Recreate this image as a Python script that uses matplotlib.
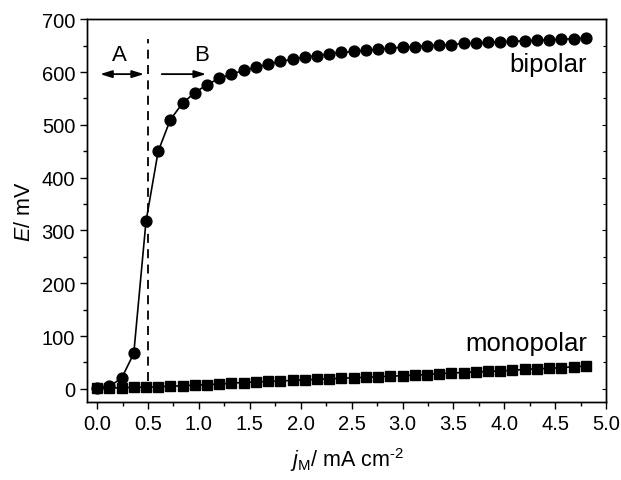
import matplotlib
matplotlib.use('Agg')
import matplotlib.pyplot as plt
import numpy as np

plt.rcParams['font.family'] = ['Liberation Sans', 'DejaVu Sans']
plt.rcParams['mathtext.fontset'] = 'custom'
plt.rcParams['mathtext.rm'] = 'Liberation Sans'
plt.rcParams['mathtext.it'] = 'Liberation Sans:italic'

# current density (mA cm-2), same for both series
j = np.round(np.arange(41) * 0.12, 2)

bipolar = [2, 5, 20, 67, 317, 450, 510, 541, 561, 576,
           588, 596, 603, 609, 615, 620, 624, 628, 631, 634,
           637, 639, 641, 643, 645, 647, 648, 650, 651, 652,
           654, 655, 656, 657, 658, 659, 660, 661, 662, 663, 664]

monopolar = [1, 2, 2, 3, 3, 4, 5, 6, 7, 8,
             9, 11, 12, 13, 14, 15, 16, 17, 18, 19,
             20, 21, 22, 23, 24, 25, 26, 27, 29, 30,
             31, 32, 33, 34, 35, 37, 38, 39, 40, 42, 43]

x_split = 0.5

fig = plt.figure(figsize=(6.21, 4.81), dpi=100)
ax = fig.add_axes([0.140, 0.162, 0.836, 0.796])

ax.plot(j, bipolar, color='black', lw=1.2, marker='o', ms=7.8, zorder=3)
ax.plot(j, monopolar, color='black', lw=1.2, marker='s', ms=6.8, zorder=3)
ax.plot([x_split, x_split], [15, 662], color='black', lw=1.3, ls=(0, (5, 3.5)))

# region arrows
ax.annotate('', xy=(0.03, 596), xytext=(0.46, 596),
            arrowprops=dict(arrowstyle='<|-|>,head_length=0.7,head_width=0.22', color='black', lw=1.3,
                            shrinkA=0, shrinkB=0))
ax.annotate('', xy=(1.07, 596), xytext=(0.635, 596),
            arrowprops=dict(arrowstyle='-|>,head_length=0.7,head_width=0.22', color='black', lw=1.3,
                            shrinkA=0, shrinkB=0))
ax.text(0.22, 634, 'A', fontsize=16, ha='center', va='center')
ax.text(1.03, 634, 'B', fontsize=16, ha='center', va='center')
ax.text(4.81, 615, 'bipolar', fontsize=18.5, ha='right', va='center')
ax.text(4.81, 87, 'monopolar', fontsize=18.5, ha='right', va='center')

ax.set_xlim(-0.1, 5.0)
ax.set_ylim(-25, 700)
ax.set_xticks(np.arange(0, 5.01, 0.5))
ax.set_xticks(np.arange(0, 5.01, 0.25), minor=True)
ax.set_yticks(np.arange(0, 701, 100))
ax.set_yticks(np.arange(0, 701, 50), minor=True)
ax.tick_params(which='both', direction='out', labelsize=14.5, width=1.0)
ax.tick_params(which='major', length=5)
ax.tick_params(which='minor', length=3)

ax2 = ax.twinx()
ax2.set_ylim(ax.get_ylim())
ax2.set_yticks(np.arange(0, 701, 100))
ax2.set_yticks(np.arange(0, 701, 50), minor=True)
ax2.tick_params(which='both', direction='in', labelright=False, width=0.8)
ax2.tick_params(which='major', length=3)
ax2.tick_params(which='minor', length=2)

for a in (ax, ax2):
    for s in a.spines.values():
        s.set_linewidth(1.0)

ax.set_xlabel(r'$\mathit{j}_{\mathrm{M}}$/ mA cm$^{\text{-2}}$', fontsize=15.5, labelpad=9)
ax.set_ylabel(r'$\mathit{E}$/ mV', fontsize=15.5, labelpad=5)

fig.savefig('out.png', dpi=100)
